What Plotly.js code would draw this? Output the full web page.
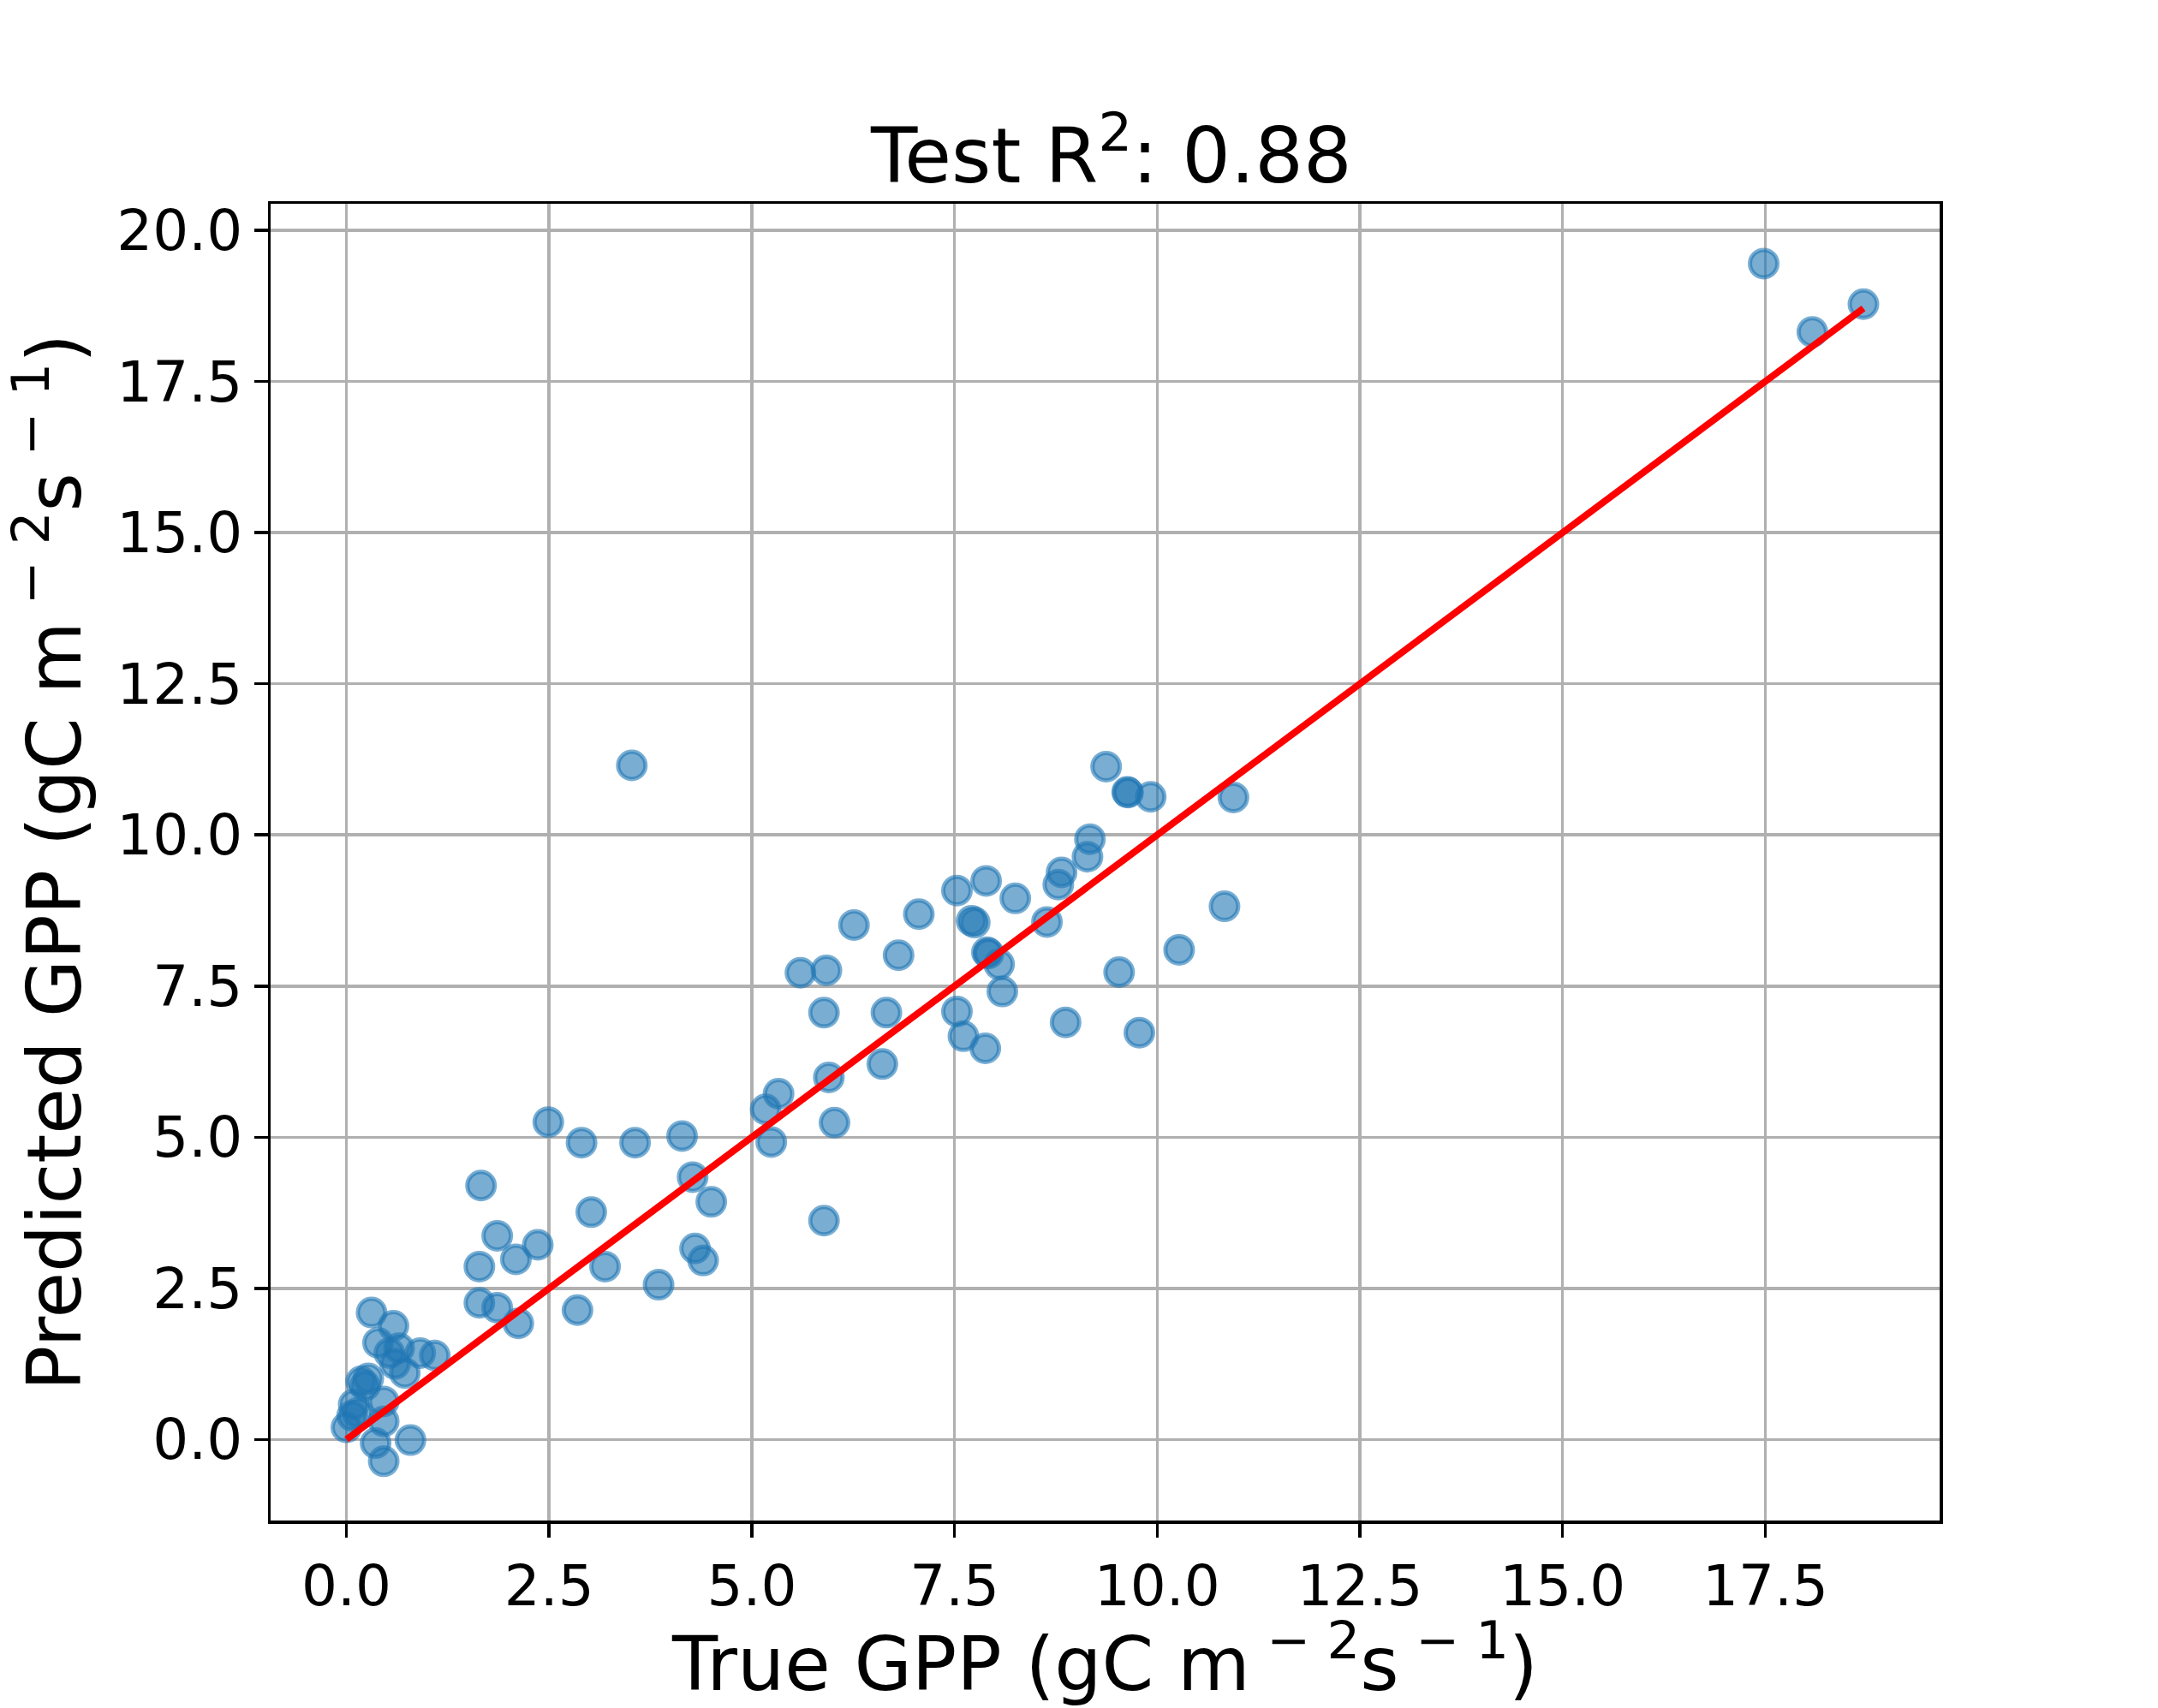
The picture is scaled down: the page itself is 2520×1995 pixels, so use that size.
<!DOCTYPE html>
<html>
<head>
<meta charset="utf-8">
<script src="https://cdn.plot.ly/plotly-3.0.1.min.js"></script>
<style>html,body{margin:0;padding:0;background:#fff;}#chart{width:2520px;height:1995px;}</style>
</head>
<body>
<div id="chart"></div>
<script>
// True vs predicted GPP
const trueGPP = [
  0.31, 0.58, 0.39, 0.53, 0.65, 0.60, 0.72, 0.91, 1.09, 0.18, 0.27, 0.23, 0.46, 0.09, 0.07, 0.14, 0.00, 0.46, 0.36, 0.46, 0.79,
  2.49, 2.90, 3.56, 4.14, 1.66, 4.27, 4.50, 3.02, 1.86, 2.36, 2.09, 1.64, 3.19, 4.30, 4.40, 3.85, 1.64, 1.86, 2.12, 2.85,
  5.17, 5.33, 5.24, 6.02, 5.89,
  6.26, 7.06, 7.53, 7.89, 8.25, 7.71, 7.75, 6.81, 7.90, 7.92, 8.05, 8.09, 5.60, 5.92, 5.89, 6.66, 7.53, 7.61, 7.88, 6.61, 5.95,
  9.17, 9.14, 8.82, 8.78, 8.64, 9.53, 8.87, 9.78, 9.37, 9.63, 9.64, 9.92, 10.94, 10.83, 10.27,
  3.52, 17.48, 18.08, 18.71
];
const predictedGPP = [
  2.10, 1.88, 1.60, 1.43, 1.51, 1.25, 1.10, 1.43, 1.39, 0.96, 1.01, 0.89, 0.63, 0.58, 0.39, 0.44, 0.20, 0.30, -0.06, -0.36, -0.01,
  5.25, 4.91, 4.91, 5.02, 4.20, 4.34, 3.93, 3.76, 3.37, 3.22, 2.98, 2.86, 2.86, 3.16, 2.96, 2.56, 2.26, 2.18, 1.92, 2.14,
  5.46, 5.72, 4.92, 5.24, 3.62,
  8.51, 8.69, 9.08, 9.24, 8.95, 8.58, 8.55, 8.01, 8.06, 8.04, 7.86, 7.41, 7.72, 7.76, 7.06, 7.06, 7.08, 6.67, 6.47, 6.21, 5.99,
  9.93, 9.64, 9.38, 9.18, 8.56, 7.73, 6.90, 6.73, 11.13, 10.71, 10.70, 10.63, 10.62, 8.82, 8.10,
  11.15, 19.45, 18.32, 18.78
];
const r2Text = "0.88";
const xTickVals = [0, 2.5, 5, 7.5, 10, 12.5, 15, 17.5];
const yTickVals = [0, 2.5, 5, 7.5, 10, 12.5, 15, 17.5, 20];

// identity line spanning the true-value range
const lo = Math.min(...trueGPP), hi = Math.max(...trueGPP);
const lineX = [lo, hi];
const lineY = [lo, hi];

const blue = 'rgba(31,119,180,0.6)';
const FONT = 'DejaVu Sans, Liberation Sans, sans-serif';
const unit = 'gC m<sup> − 2</sup>s<sup> − 1</sup>';

const traces = [
  {
    type: 'scatter', mode: 'markers', x: trueGPP, y: predictedGPP,
    marker: {size: 32, color: blue, line: {color: blue, width: 5}},
    hoverinfo: 'x+y', showlegend: false
  },
  {
    type: 'scatter', mode: 'lines', x: lineX, y: lineY,
    line: {color: '#ff0000', width: 8}, showlegend: false
  }
];

const axisCommon = {
  showline: true, mirror: true, linecolor: '#000', linewidth: 3.5,
  ticks: 'outside', ticklen: 16, tickwidth: 3.5, tickcolor: '#000',
  showgrid: true, gridcolor: '#b0b0b0', gridwidth: 3.5,
  zeroline: false, tickformat: '.1f',
  tickfont: {family: FONT, size: 66, color: '#000'}
};

const layout = {
  width: 2520, height: 1995,
  paper_bgcolor: '#fff', plot_bgcolor: '#fff',
  margin: {l: 316, r: 255, t: 238, b: 219},
  font: {family: FONT, color: '#000'},
  title: {
    text: 'Test R<sup>2</sup>: ' + r2Text,
    font: {family: FONT, size: 89, color: '#000'},
    x: 0.515, xanchor: 'center', xref: 'container',
    y: 1 - 182 / 1995, yanchor: 'middle', yref: 'container'
  },
  xaxis: Object.assign({}, axisCommon, {
    range: [-0.935, 19.65], tickvals: xTickVals,
    title: {text: 'True GPP (' + unit + ')', font: {family: FONT, size: 87, color: '#000'}, standoff: 20}
  }),
  yaxis: Object.assign({}, axisCommon, {
    range: [-1.34, 20.44], tickvals: yTickVals,
    title: {text: 'Predicted GPP (' + unit + ')', font: {family: FONT, size: 87, color: '#000'}, standoff: 28}
  })
};

Plotly.newPlot('chart', traces, layout, {displayModeBar: false, staticPlot: true});
</script>
</body>
</html>
